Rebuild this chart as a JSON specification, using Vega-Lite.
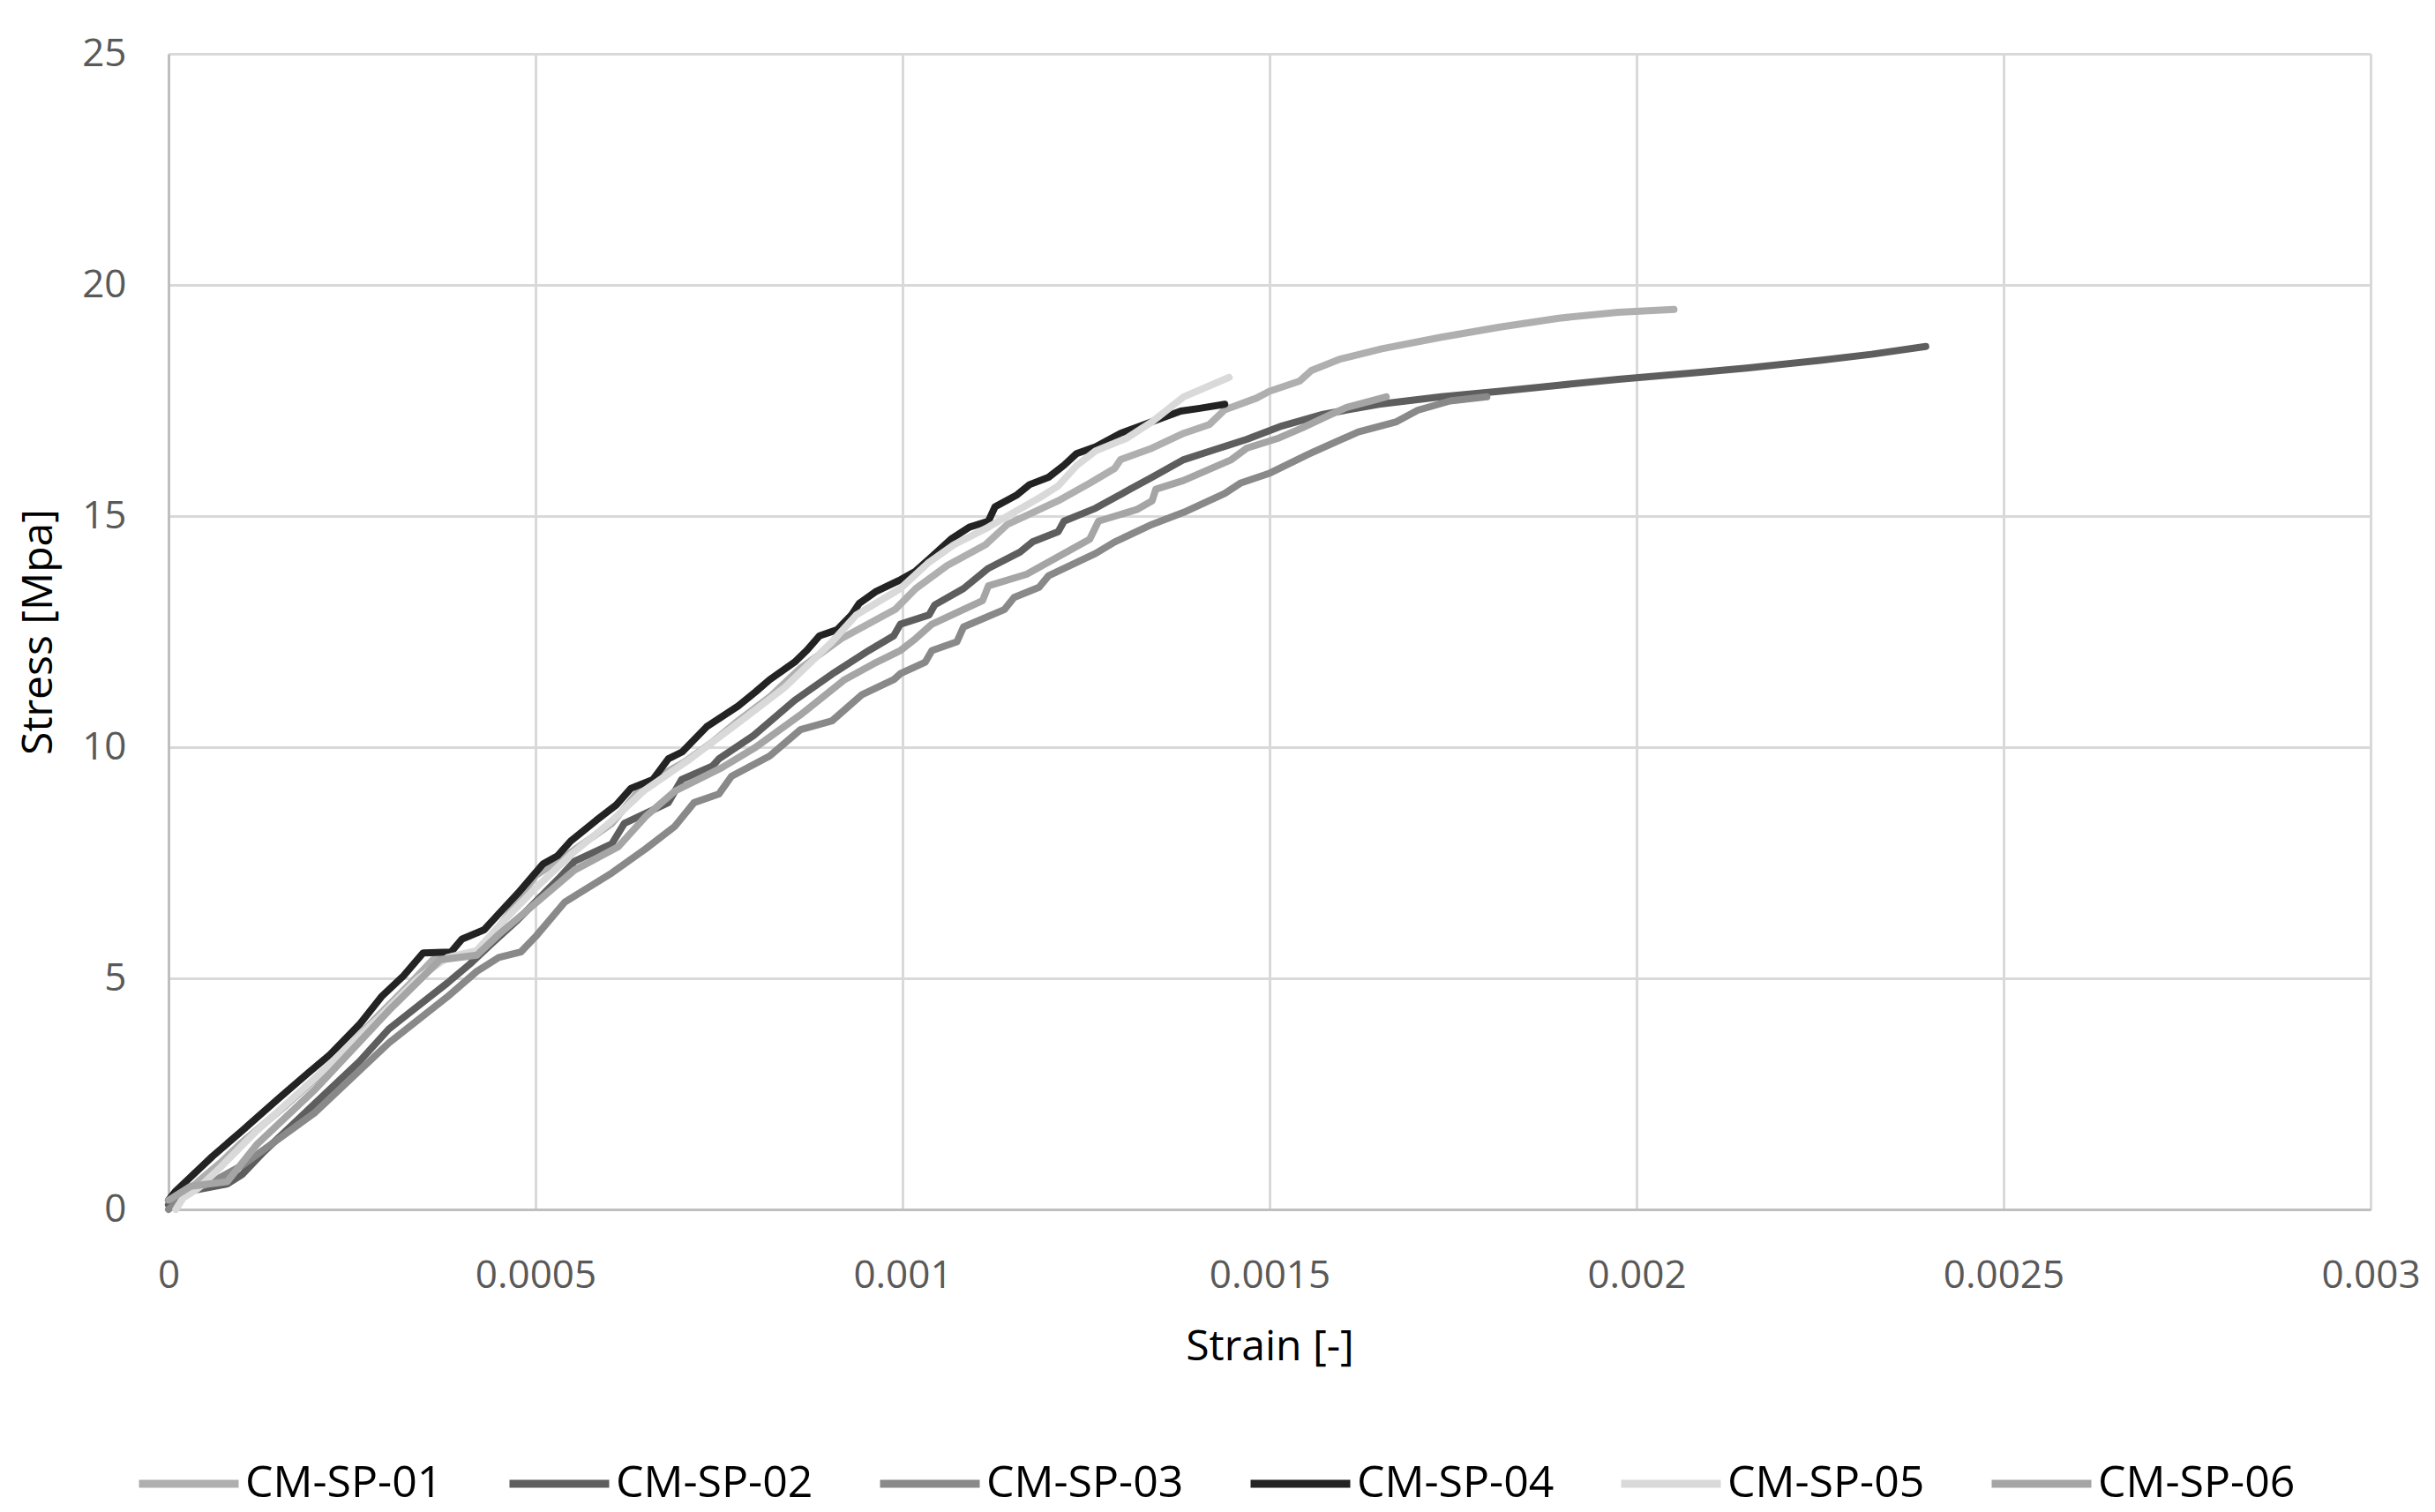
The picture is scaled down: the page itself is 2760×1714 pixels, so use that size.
{
  "$schema": "https://vega.github.io/schema/vega-lite/v6.json",
  "width": 2496,
  "height": 1310,
  "autosize": {"type": "none"},
  "padding": {"left": 191, "top": 61, "right": 73, "bottom": 343},
  "background": "white",
  "config": {"view": {"stroke": null}, "font": "Open Sans"},
  "datasets": {
    "curves": [
      {"series":"CM-SP-01","strain":0,"stress":0.1},
      {"series":"CM-SP-01","strain":0.00002,"stress":0.3},
      {"series":"CM-SP-01","strain":0.00004,"stress":0.6},
      {"series":"CM-SP-01","strain":0.00007,"stress":1.0},
      {"series":"CM-SP-01","strain":0.0001,"stress":1.45},
      {"series":"CM-SP-01","strain":0.00016,"stress":2.25},
      {"series":"CM-SP-01","strain":0.00022,"stress":3.1},
      {"series":"CM-SP-01","strain":0.00028,"stress":4.1},
      {"series":"CM-SP-01","strain":0.00033,"stress":4.9},
      {"series":"CM-SP-01","strain":0.00036,"stress":5.4},
      {"series":"CM-SP-01","strain":0.00042,"stress":5.5},
      {"series":"CM-SP-01","strain":0.00045,"stress":6.1},
      {"series":"CM-SP-01","strain":0.0005,"stress":7.22},
      {"series":"CM-SP-01","strain":0.000553,"stress":7.78},
      {"series":"CM-SP-01","strain":0.000604,"stress":8.35},
      {"series":"CM-SP-01","strain":0.000647,"stress":9.18},
      {"series":"CM-SP-01","strain":0.000703,"stress":9.68},
      {"series":"CM-SP-01","strain":0.00074,"stress":10.1},
      {"series":"CM-SP-01","strain":0.000776,"stress":10.57},
      {"series":"CM-SP-01","strain":0.00082,"stress":11.1},
      {"series":"CM-SP-01","strain":0.000861,"stress":11.71},
      {"series":"CM-SP-01","strain":0.000917,"stress":12.35},
      {"series":"CM-SP-01","strain":0.00099,"stress":12.98},
      {"series":"CM-SP-01","strain":0.001018,"stress":13.43},
      {"series":"CM-SP-01","strain":0.001061,"stress":13.93},
      {"series":"CM-SP-01","strain":0.001113,"stress":14.38},
      {"series":"CM-SP-01","strain":0.001143,"stress":14.82},
      {"series":"CM-SP-01","strain":0.001169,"stress":15.01},
      {"series":"CM-SP-01","strain":0.001212,"stress":15.33},
      {"series":"CM-SP-01","strain":0.001255,"stress":15.71},
      {"series":"CM-SP-01","strain":0.001289,"stress":16.03},
      {"series":"CM-SP-01","strain":0.001297,"stress":16.22},
      {"series":"CM-SP-01","strain":0.00134,"stress":16.47},
      {"series":"CM-SP-01","strain":0.001383,"stress":16.79},
      {"series":"CM-SP-01","strain":0.001418,"stress":16.98},
      {"series":"CM-SP-01","strain":0.001439,"stress":17.3},
      {"series":"CM-SP-01","strain":0.001482,"stress":17.55},
      {"series":"CM-SP-01","strain":0.0015,"stress":17.7},
      {"series":"CM-SP-01","strain":0.001541,"stress":17.92},
      {"series":"CM-SP-01","strain":0.001557,"stress":18.15},
      {"series":"CM-SP-01","strain":0.001597,"stress":18.4},
      {"series":"CM-SP-01","strain":0.001653,"stress":18.62},
      {"series":"CM-SP-01","strain":0.001734,"stress":18.87},
      {"series":"CM-SP-01","strain":0.001814,"stress":19.09},
      {"series":"CM-SP-01","strain":0.001894,"stress":19.28},
      {"series":"CM-SP-01","strain":0.001975,"stress":19.41},
      {"series":"CM-SP-01","strain":0.002051,"stress":19.47},

      {"series":"CM-SP-02","strain":0,"stress":0.1},
      {"series":"CM-SP-02","strain":0.00003,"stress":0.4},
      {"series":"CM-SP-02","strain":0.00008,"stress":0.55},
      {"series":"CM-SP-02","strain":0.0001,"stress":0.75},
      {"series":"CM-SP-02","strain":0.00013,"stress":1.25},
      {"series":"CM-SP-02","strain":0.0002,"stress":2.3},
      {"series":"CM-SP-02","strain":0.00026,"stress":3.2},
      {"series":"CM-SP-02","strain":0.0003,"stress":3.9},
      {"series":"CM-SP-02","strain":0.00034,"stress":4.4},
      {"series":"CM-SP-02","strain":0.00038,"stress":4.9},
      {"series":"CM-SP-02","strain":0.00041,"stress":5.3},
      {"series":"CM-SP-02","strain":0.000441,"stress":5.76},
      {"series":"CM-SP-02","strain":0.000476,"stress":6.27},
      {"series":"CM-SP-02","strain":0.000531,"stress":7.15},
      {"series":"CM-SP-02","strain":0.000553,"stress":7.53},
      {"series":"CM-SP-02","strain":0.000604,"stress":7.91},
      {"series":"CM-SP-02","strain":0.000621,"stress":8.35},
      {"series":"CM-SP-02","strain":0.000681,"stress":8.8},
      {"series":"CM-SP-02","strain":0.000699,"stress":9.3},
      {"series":"CM-SP-02","strain":0.000741,"stress":9.59},
      {"series":"CM-SP-02","strain":0.00075,"stress":9.75},
      {"series":"CM-SP-02","strain":0.000797,"stress":10.25},
      {"series":"CM-SP-02","strain":0.000853,"stress":11.01},
      {"series":"CM-SP-02","strain":0.000904,"stress":11.58},
      {"series":"CM-SP-02","strain":0.000954,"stress":12.09},
      {"series":"CM-SP-02","strain":0.000988,"stress":12.41},
      {"series":"CM-SP-02","strain":0.000997,"stress":12.66},
      {"series":"CM-SP-02","strain":0.001036,"stress":12.86},
      {"series":"CM-SP-02","strain":0.001044,"stress":13.08},
      {"series":"CM-SP-02","strain":0.001083,"stress":13.43},
      {"series":"CM-SP-02","strain":0.001117,"stress":13.87},
      {"series":"CM-SP-02","strain":0.00116,"stress":14.22},
      {"series":"CM-SP-02","strain":0.001177,"stress":14.44},
      {"series":"CM-SP-02","strain":0.001212,"stress":14.66},
      {"series":"CM-SP-02","strain":0.00122,"stress":14.89},
      {"series":"CM-SP-02","strain":0.001263,"stress":15.17},
      {"series":"CM-SP-02","strain":0.00131,"stress":15.58},
      {"series":"CM-SP-02","strain":0.00134,"stress":15.84},
      {"series":"CM-SP-02","strain":0.001383,"stress":16.22},
      {"series":"CM-SP-02","strain":0.001426,"stress":16.44},
      {"series":"CM-SP-02","strain":0.001469,"stress":16.66},
      {"series":"CM-SP-02","strain":0.001517,"stress":16.95},
      {"series":"CM-SP-02","strain":0.001573,"stress":17.2},
      {"series":"CM-SP-02","strain":0.001649,"stress":17.42},
      {"series":"CM-SP-02","strain":0.001734,"stress":17.58},
      {"series":"CM-SP-02","strain":0.001814,"stress":17.7},
      {"series":"CM-SP-02","strain":0.001894,"stress":17.83},
      {"series":"CM-SP-02","strain":0.001975,"stress":17.96},
      {"series":"CM-SP-02","strain":0.00208,"stress":18.1},
      {"series":"CM-SP-02","strain":0.00215,"stress":18.2},
      {"series":"CM-SP-02","strain":0.00225,"stress":18.37},
      {"series":"CM-SP-02","strain":0.00232,"stress":18.5},
      {"series":"CM-SP-02","strain":0.002394,"stress":18.67},

      {"series":"CM-SP-03","strain":0,"stress":0.0},
      {"series":"CM-SP-03","strain":0.00003,"stress":0.4},
      {"series":"CM-SP-03","strain":0.00006,"stress":0.6},
      {"series":"CM-SP-03","strain":0.0001,"stress":0.95},
      {"series":"CM-SP-03","strain":0.0002,"stress":2.1},
      {"series":"CM-SP-03","strain":0.0003,"stress":3.6},
      {"series":"CM-SP-03","strain":0.00038,"stress":4.6},
      {"series":"CM-SP-03","strain":0.00042,"stress":5.15},
      {"series":"CM-SP-03","strain":0.00045,"stress":5.45},
      {"series":"CM-SP-03","strain":0.00048,"stress":5.57},
      {"series":"CM-SP-03","strain":0.0005,"stress":5.9},
      {"series":"CM-SP-03","strain":0.00054,"stress":6.65},
      {"series":"CM-SP-03","strain":0.000604,"stress":7.28},
      {"series":"CM-SP-03","strain":0.00065,"stress":7.8},
      {"series":"CM-SP-03","strain":0.00069,"stress":8.29},
      {"series":"CM-SP-03","strain":0.000716,"stress":8.8},
      {"series":"CM-SP-03","strain":0.00075,"stress":8.99},
      {"series":"CM-SP-03","strain":0.000767,"stress":9.37},
      {"series":"CM-SP-03","strain":0.000819,"stress":9.81},
      {"series":"CM-SP-03","strain":0.000861,"stress":10.38},
      {"series":"CM-SP-03","strain":0.000904,"stress":10.57},
      {"series":"CM-SP-03","strain":0.000945,"stress":11.14},
      {"series":"CM-SP-03","strain":0.000988,"stress":11.46},
      {"series":"CM-SP-03","strain":0.000997,"stress":11.59},
      {"series":"CM-SP-03","strain":0.001031,"stress":11.84},
      {"series":"CM-SP-03","strain":0.00104,"stress":12.09},
      {"series":"CM-SP-03","strain":0.001074,"stress":12.28},
      {"series":"CM-SP-03","strain":0.001083,"stress":12.6},
      {"series":"CM-SP-03","strain":0.001139,"stress":12.98},
      {"series":"CM-SP-03","strain":0.001152,"stress":13.24},
      {"series":"CM-SP-03","strain":0.001186,"stress":13.46},
      {"series":"CM-SP-03","strain":0.001199,"stress":13.71},
      {"series":"CM-SP-03","strain":0.001263,"stress":14.19},
      {"series":"CM-SP-03","strain":0.001289,"stress":14.44},
      {"series":"CM-SP-03","strain":0.00134,"stress":14.82},
      {"series":"CM-SP-03","strain":0.001383,"stress":15.08},
      {"series":"CM-SP-03","strain":0.001439,"stress":15.49},
      {"series":"CM-SP-03","strain":0.00146,"stress":15.71},
      {"series":"CM-SP-03","strain":0.001499,"stress":15.92},
      {"series":"CM-SP-03","strain":0.001553,"stress":16.34},
      {"series":"CM-SP-03","strain":0.001621,"stress":16.82},
      {"series":"CM-SP-03","strain":0.001673,"stress":17.04},
      {"series":"CM-SP-03","strain":0.001702,"stress":17.29},
      {"series":"CM-SP-03","strain":0.001746,"stress":17.49},
      {"series":"CM-SP-03","strain":0.001796,"stress":17.58},

      {"series":"CM-SP-04","strain":0,"stress":0.2},
      {"series":"CM-SP-04","strain":0.00001,"stress":0.4},
      {"series":"CM-SP-04","strain":0.00003,"stress":0.7},
      {"series":"CM-SP-04","strain":0.00006,"stress":1.15},
      {"series":"CM-SP-04","strain":0.0001,"stress":1.7},
      {"series":"CM-SP-04","strain":0.00015,"stress":2.4},
      {"series":"CM-SP-04","strain":0.00019,"stress":2.95},
      {"series":"CM-SP-04","strain":0.00022,"stress":3.35},
      {"series":"CM-SP-04","strain":0.00026,"stress":4.0},
      {"series":"CM-SP-04","strain":0.00029,"stress":4.6},
      {"series":"CM-SP-04","strain":0.00032,"stress":5.05},
      {"series":"CM-SP-04","strain":0.000347,"stress":5.55},
      {"series":"CM-SP-04","strain":0.000385,"stress":5.57},
      {"series":"CM-SP-04","strain":0.0004,"stress":5.85},
      {"series":"CM-SP-04","strain":0.00043,"stress":6.05},
      {"series":"CM-SP-04","strain":0.000456,"stress":6.5},
      {"series":"CM-SP-04","strain":0.000476,"stress":6.84},
      {"series":"CM-SP-04","strain":0.00051,"stress":7.47},
      {"series":"CM-SP-04","strain":0.00053,"stress":7.65},
      {"series":"CM-SP-04","strain":0.000548,"stress":7.97},
      {"series":"CM-SP-04","strain":0.000583,"stress":8.42},
      {"series":"CM-SP-04","strain":0.00061,"stress":8.75},
      {"series":"CM-SP-04","strain":0.00063,"stress":9.11},
      {"series":"CM-SP-04","strain":0.00066,"stress":9.3},
      {"series":"CM-SP-04","strain":0.000681,"stress":9.75},
      {"series":"CM-SP-04","strain":0.0007,"stress":9.9},
      {"series":"CM-SP-04","strain":0.000733,"stress":10.44},
      {"series":"CM-SP-04","strain":0.000776,"stress":10.89},
      {"series":"CM-SP-04","strain":0.0008,"stress":11.2},
      {"series":"CM-SP-04","strain":0.000819,"stress":11.46},
      {"series":"CM-SP-04","strain":0.000853,"stress":11.84},
      {"series":"CM-SP-04","strain":0.00087,"stress":12.1},
      {"series":"CM-SP-04","strain":0.000887,"stress":12.41},
      {"series":"CM-SP-04","strain":0.000911,"stress":12.54},
      {"series":"CM-SP-04","strain":0.00093,"stress":12.85},
      {"series":"CM-SP-04","strain":0.000941,"stress":13.11},
      {"series":"CM-SP-04","strain":0.000963,"stress":13.36},
      {"series":"CM-SP-04","strain":0.000997,"stress":13.62},
      {"series":"CM-SP-04","strain":0.001018,"stress":13.81},
      {"series":"CM-SP-04","strain":0.00104,"stress":14.12},
      {"series":"CM-SP-04","strain":0.001066,"stress":14.5},
      {"series":"CM-SP-04","strain":0.001091,"stress":14.76},
      {"series":"CM-SP-04","strain":0.001117,"stress":14.89},
      {"series":"CM-SP-04","strain":0.001126,"stress":15.2},
      {"series":"CM-SP-04","strain":0.001156,"stress":15.46},
      {"series":"CM-SP-04","strain":0.001173,"stress":15.68},
      {"series":"CM-SP-04","strain":0.001199,"stress":15.84},
      {"series":"CM-SP-04","strain":0.00122,"stress":16.1},
      {"series":"CM-SP-04","strain":0.001237,"stress":16.35},
      {"series":"CM-SP-04","strain":0.001263,"stress":16.5},
      {"series":"CM-SP-04","strain":0.001297,"stress":16.79},
      {"series":"CM-SP-04","strain":0.00134,"stress":17.04},
      {"series":"CM-SP-04","strain":0.001379,"stress":17.27},
      {"series":"CM-SP-04","strain":0.001405,"stress":17.33},
      {"series":"CM-SP-04","strain":0.001439,"stress":17.42},

      {"series":"CM-SP-05","strain":0.00001,"stress":0.0},
      {"series":"CM-SP-05","strain":0.00002,"stress":0.25},
      {"series":"CM-SP-05","strain":0.00004,"stress":0.45},
      {"series":"CM-SP-05","strain":0.00007,"stress":0.9},
      {"series":"CM-SP-05","strain":0.00012,"stress":1.7},
      {"series":"CM-SP-05","strain":0.0002,"stress":2.85},
      {"series":"CM-SP-05","strain":0.00028,"stress":4.05},
      {"series":"CM-SP-05","strain":0.00034,"stress":5.0},
      {"series":"CM-SP-05","strain":0.00038,"stress":5.45},
      {"series":"CM-SP-05","strain":0.00042,"stress":5.6},
      {"series":"CM-SP-05","strain":0.00046,"stress":6.3},
      {"series":"CM-SP-05","strain":0.0005,"stress":6.95},
      {"series":"CM-SP-05","strain":0.00055,"stress":7.7},
      {"series":"CM-SP-05","strain":0.0006,"stress":8.35},
      {"series":"CM-SP-05","strain":0.000647,"stress":9.05},
      {"series":"CM-SP-05","strain":0.000711,"stress":9.75},
      {"series":"CM-SP-05","strain":0.00078,"stress":10.57},
      {"series":"CM-SP-05","strain":0.00084,"stress":11.3},
      {"series":"CM-SP-05","strain":0.000904,"stress":12.28},
      {"series":"CM-SP-05","strain":0.000937,"stress":12.86},
      {"series":"CM-SP-05","strain":0.000997,"stress":13.43},
      {"series":"CM-SP-05","strain":0.001036,"stress":14.0},
      {"series":"CM-SP-05","strain":0.00107,"stress":14.38},
      {"series":"CM-SP-05","strain":0.001117,"stress":14.76},
      {"series":"CM-SP-05","strain":0.001152,"stress":15.08},
      {"series":"CM-SP-05","strain":0.001186,"stress":15.39},
      {"series":"CM-SP-05","strain":0.001212,"stress":15.65},
      {"series":"CM-SP-05","strain":0.001237,"stress":16.09},
      {"series":"CM-SP-05","strain":0.001263,"stress":16.41},
      {"series":"CM-SP-05","strain":0.001306,"stress":16.69},
      {"series":"CM-SP-05","strain":0.00134,"stress":17.04},
      {"series":"CM-SP-05","strain":0.001383,"stress":17.58},
      {"series":"CM-SP-05","strain":0.001445,"stress":18.0},

      {"series":"CM-SP-06","strain":0,"stress":0.2},
      {"series":"CM-SP-06","strain":0.00003,"stress":0.5},
      {"series":"CM-SP-06","strain":0.00008,"stress":0.6},
      {"series":"CM-SP-06","strain":0.00012,"stress":1.4},
      {"series":"CM-SP-06","strain":0.0002,"stress":2.6},
      {"series":"CM-SP-06","strain":0.0003,"stress":4.3},
      {"series":"CM-SP-06","strain":0.00037,"stress":5.4},
      {"series":"CM-SP-06","strain":0.00042,"stress":5.5},
      {"series":"CM-SP-06","strain":0.00045,"stress":5.95},
      {"series":"CM-SP-06","strain":0.000488,"stress":6.46},
      {"series":"CM-SP-06","strain":0.000553,"stress":7.34},
      {"series":"CM-SP-06","strain":0.000613,"stress":7.85},
      {"series":"CM-SP-06","strain":0.00065,"stress":8.5},
      {"series":"CM-SP-06","strain":0.00069,"stress":9.05},
      {"series":"CM-SP-06","strain":0.000754,"stress":9.56},
      {"series":"CM-SP-06","strain":0.0008,"stress":10.0},
      {"series":"CM-SP-06","strain":0.000861,"stress":10.7},
      {"series":"CM-SP-06","strain":0.00092,"stress":11.45},
      {"series":"CM-SP-06","strain":0.00096,"stress":11.8},
      {"series":"CM-SP-06","strain":0.000997,"stress":12.09},
      {"series":"CM-SP-06","strain":0.001018,"stress":12.35},
      {"series":"CM-SP-06","strain":0.00104,"stress":12.66},
      {"series":"CM-SP-06","strain":0.001109,"stress":13.17},
      {"series":"CM-SP-06","strain":0.001117,"stress":13.49},
      {"series":"CM-SP-06","strain":0.001169,"stress":13.74},
      {"series":"CM-SP-06","strain":0.001255,"stress":14.5},
      {"series":"CM-SP-06","strain":0.001267,"stress":14.89},
      {"series":"CM-SP-06","strain":0.001319,"stress":15.14},
      {"series":"CM-SP-06","strain":0.00134,"stress":15.33},
      {"series":"CM-SP-06","strain":0.001345,"stress":15.58},
      {"series":"CM-SP-06","strain":0.001383,"stress":15.77},
      {"series":"CM-SP-06","strain":0.001448,"stress":16.22},
      {"series":"CM-SP-06","strain":0.001469,"stress":16.47},
      {"series":"CM-SP-06","strain":0.001513,"stress":16.69},
      {"series":"CM-SP-06","strain":0.001545,"stress":16.91},
      {"series":"CM-SP-06","strain":0.001584,"stress":17.2},
      {"series":"CM-SP-06","strain":0.001605,"stress":17.35},
      {"series":"CM-SP-06","strain":0.001659,"stress":17.58}
    ]
  },
  "data": {"name": "curves"},
  "mark": {"type": "line", "strokeWidth": 8, "strokeCap": "round", "strokeJoin": "round"},
  "encoding": {
    "x": {
      "field": "strain", "type": "quantitative",
      "scale": {"domain": [0, 0.003], "nice": false},
      "axis": {
        "title": "Strain [-]",
        "values": [0, 0.0005, 0.001, 0.0015, 0.002, 0.0025, 0.003],
        "format": "~g",
        "grid": true, "gridColor": "#d9d9d9", "gridWidth": 3,
        "domainColor": "#bfbfbf", "domainWidth": 3,
        "ticks": false, "tickSize": 0,
        "labelFlush": false, "labelOverlap": false,
        "labelFont": "Open Sans", "labelFontSize": 44, "labelColor": "#595959", "labelPadding": 53,
        "titleFont": "Open Sans", "titleFontSize": 48, "titleFontWeight": "normal", "titleColor": "#000000",
        "titleY": 170, "titleBaseline": "alphabetic"
      }
    },
    "y": {
      "field": "stress", "type": "quantitative",
      "scale": {"domain": [0, 25], "nice": false},
      "axis": {
        "title": "Stress [Mpa]",
        "values": [0, 5, 10, 15, 20, 25],
        "grid": true, "gridColor": "#d9d9d9", "gridWidth": 3,
        "domainColor": "#bfbfbf", "domainWidth": 3,
        "ticks": false, "tickSize": 0,
        "labelFlush": false, "labelOverlap": false,
        "labelFont": "Open Sans", "labelFontSize": 44, "labelColor": "#595959", "labelPadding": 48,
        "titleFont": "Open Sans", "titleFontSize": 48, "titleFontWeight": "normal", "titleColor": "#000000",
        "titleX": -133, "titleBaseline": "alphabetic"
      }
    },
    "color": {
      "field": "series", "type": "nominal",
      "scale": {
        "domain": ["CM-SP-01", "CM-SP-02", "CM-SP-03", "CM-SP-04", "CM-SP-05", "CM-SP-06"],
        "range": ["#afafaf", "#5e5e5e", "#898989", "#232323", "#d9d9d9", "#a5a5a5"]
      },
      "legend": {
        "title": null, "orient": "none", "legendX": -38, "legendY": 1560,
        "direction": "horizontal", "columns": 6,
        "symbolType": "stroke", "symbolSize": 12769, "symbolStrokeWidth": 9,
        "labelFont": "Open Sans", "labelFontSize": 50, "labelColor": "#000000",
        "labelOffset": 3, "columnPadding": 57, "labelLimit": 0
      }
    }
  }
}
